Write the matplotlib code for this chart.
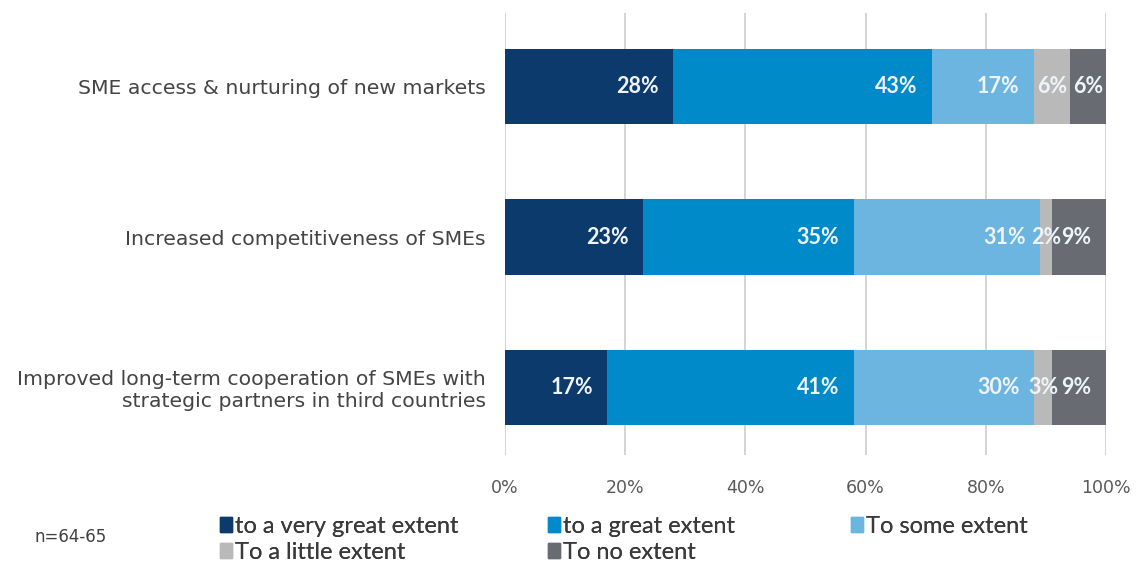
import matplotlib.pyplot as plt
from matplotlib.patches import Patch

# survey results, percent of respondents per answer
categories = ['SME access & nurturing of new markets',
              'Increased competitiveness of SMEs',
              'Improved long-term cooperation of SMEs with\nstrategic partners in third countries']
answers = ['to a very great extent', 'to a great extent', 'To some extent',
           'To a little extent', 'To no extent']
very_great = [28, 23, 17]
great = [43, 35, 41]
some = [17, 31, 30]
little = [6, 2, 3]
no_extent = [6, 9, 9]
xticks = [0, 20, 40, 60, 80, 100]

colors = ['#0d3a6c', '#018ac9', '#6db5e1', '#b9b9b9', '#686b72']
series = [very_great, great, some, little, no_extent]

fig = plt.figure(figsize=(11.39, 5.68), dpi=100)
ax = fig.add_axes([505/1139, 1-455/568, 601/1139, 442/568])

ypos = range(len(categories))
left = [0, 0, 0]
for vals, col, name in zip(series, colors, answers):
    bars = ax.barh(ypos, vals, left=left, height=0.5, color=col, label=name, zorder=3)
    for b, v in zip(bars, vals):
        yc = b.get_y() + b.get_height()/2
        if v < 8:
            # narrow segment: center the label
            ax.text(b.get_x() + b.get_width()/2, yc, '%d%%' % v, ha='center', va='center',
                    color='#eef4fa', fontsize=15.5, family='Lato', fontweight='bold', zorder=4)
        else:
            ax.text(b.get_x() + b.get_width() - 2.4, yc, '%d%%' % v, ha='right', va='center',
                    color='#eef4fa', fontsize=15.5, family='Lato', fontweight='bold', zorder=4)
    left = [l + v for l, v in zip(left, vals)]

ax.set_xlim(0, 100)
ax.set_ylim(2.45, -0.49)
ax.set_xticks(xticks)
ax.set_xticklabels(['%d%%' % t for t in xticks], color='#595959', fontsize=12.5)
ax.set_yticks(list(ypos))
ax.set_yticklabels(categories, fontsize=14.7, color='#444444')
ax.tick_params(axis='both', length=0)
ax.tick_params(axis='x', pad=17)
ax.tick_params(axis='y', pad=14)
ax.grid(axis='x', color='#d4d4d4', linewidth=1.4, zorder=0)
for s in ax.spines.values():
    s.set_visible(False)

# legend: one block per column so the columns sit at fixed positions
handles = [Patch(color=c, label=a) for c, a in zip(colors, answers)]
columns = [([0, 3], 220), ([1, 4], 548), ([2], 851)]
for idx, xpix in columns:
    leg = fig.legend([handles[i] for i in idx], [answers[i] for i in idx],
                     loc='upper left', bbox_to_anchor=(xpix/1139, 1-516/568),
                     frameon=False, borderpad=0, borderaxespad=0,
                     handlelength=0.5, handleheight=0.6, handletextpad=0.15,
                     labelspacing=0.2, prop={'family': 'Lato', 'size': 17})
    for t in leg.get_texts():
        t.set_color('#3a3a3a')
    fig.add_artist(leg)
fig.text(35/1139, 1-537/568, 'n=64-65', fontsize=12, color='#404040', va='center')

fig.savefig('out.png', dpi=100)
